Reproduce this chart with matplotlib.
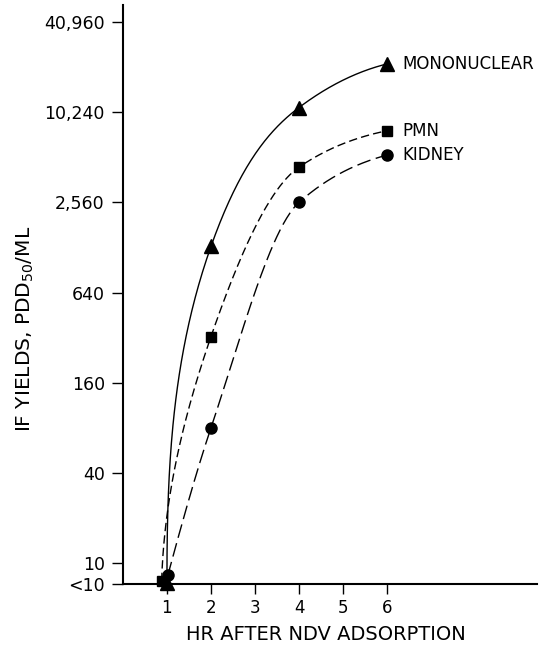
#!/usr/bin/env python3
"""
Interferon yields after NDV adsorption for three cell types (log2 y axis).
"""

import numpy as np
import matplotlib
matplotlib.use("Agg")
import matplotlib.pyplot as plt

# Data
hours_mono = [1.0, 2, 4, 6]
yield_mono = [7.4, 1300, 11000, 21500]

hours_pmn = [0.88, 2, 4, 6]
yield_pmn = [7.6, 325, 4400, 7700]

hours_kidney = [1.02, 2, 4, 6]
yield_kidney = [8.3, 80, 2560, 5300]

ytick_values = [10, 40, 160, 640, 2560, 10240, 40960]
ytick_labels = ["10", "40", "160", "640", "2,560", "10,240", "40,960"]
xtick_values = [1, 2, 3, 4, 5, 6]
y_floor = 7.25  # the "<10" level sits on the x axis


def hermite(p0, p1, t0, t1, n=80):
    t = np.linspace(0, 1, n)[:, None]
    h00 = 2 * t**3 - 3 * t**2 + 1
    h10 = t**3 - 2 * t**2 + t
    h01 = -2 * t**3 + 3 * t**2
    h11 = t**3 - t**2
    return h00 * p0 + h10 * t0 + h01 * p1 + h11 * t1


def smooth_curve(xs, ys, start_slope=None, start_lean=0.0):
    """Shape-preserving curve through the points in (x, log2 y).
    start_slope=None means the curve leaves the first point (nearly) vertically."""
    x = np.asarray(xs, float)
    L = np.log2(ys)
    h = np.diff(x)
    s = np.diff(L) / h
    m = np.zeros(len(x))
    for i in range(1, len(x) - 1):
        w1 = 2 * h[i] + h[i - 1]
        w2 = h[i] + 2 * h[i - 1]
        m[i] = (w1 + w2) / (w1 / s[i - 1] + w2 / s[i])
    m[-1] = 0.5 * s[-1]
    pts = []
    for i in range(len(x) - 1):
        p0 = np.array([x[i], L[i]])
        p1 = np.array([x[i + 1], L[i + 1]])
        dL = L[i + 1] - L[i]
        if i == 0 and start_slope is None:
            # written as x(L): dx/dL ~ 0 at the start
            t0 = np.array([start_lean * dL, dL])
            t1 = np.array([dL / m[1], dL])
        else:
            m0 = start_slope if i == 0 else m[i]
            t0 = np.array([h[i], m0 * h[i]])
            t1 = np.array([h[i], m[i + 1] * h[i]])
        seg = hermite(p0, p1, t0, t1)
        pts.append(seg if i == 0 else seg[1:])
    pts = np.vstack(pts)
    return pts[:, 0], 2 ** pts[:, 1]


fig = plt.figure(figsize=(5.39, 6.49), dpi=100)
ax = fig.add_axes([0.228, 0.100, 0.768, 0.892])
ax.set_yscale("log", base=2)

series = [
    (hours_mono, yield_mono, "^", 10, "-", None, 0.0, "MONONUCLEAR"),
    (hours_pmn, yield_pmn, "s", 7.5, (0, (6, 3)), None, 0.03, "PMN"),
    (hours_kidney, yield_kidney, "o", 8, (0, (10, 4)), 3.6, 0.0, "KIDNEY"),
]
for xs, ys, marker, ms, ls, slope0, lean, name in series:
    cx, cy = smooth_curve(xs, ys, slope0, lean)
    ax.plot(cx, cy, color="black", linewidth=1.0, linestyle=ls)
    ax.plot(xs, [max(v, y_floor) for v in ys], linestyle="none", marker=marker,
            markersize=ms, color="black", clip_on=False)
    ax.annotate(name, xy=(xs[-1], ys[-1]), xytext=(11, 0), textcoords="offset points",
                va="center", ha="left", fontsize=12)

ax.set_xlim(0, 9.4)
ax.set_ylim(y_floor, 53000)
ax.set_xticks(xtick_values)
ax.set_xticklabels([str(v) for v in xtick_values])
ax.set_yticks([y_floor] + ytick_values)
ax.set_yticklabels(["<10"] + ytick_labels)
ax.yaxis.set_minor_locator(matplotlib.ticker.NullLocator())

for side in ["top", "right"]:
    ax.spines[side].set_visible(False)
for side in ["left", "bottom"]:
    ax.spines[side].set_linewidth(1.5)

ax.tick_params(axis="y", direction="out", length=8, width=1, pad=5, labelsize=12.5)
ax.tick_params(axis="x", direction="out", length=7, width=1, pad=4, labelsize=12)

ax.set_xlabel("HR AFTER NDV ADSORPTION", fontsize=14)
ax.xaxis.set_label_coords(0.49, -0.07)
ax.set_ylabel("IF YIELDS, PDD$_{50}$/ML", fontsize=14.5)
ax.yaxis.set_label_coords(-0.21, 0.44)

fig.savefig("out.png", dpi=100)
